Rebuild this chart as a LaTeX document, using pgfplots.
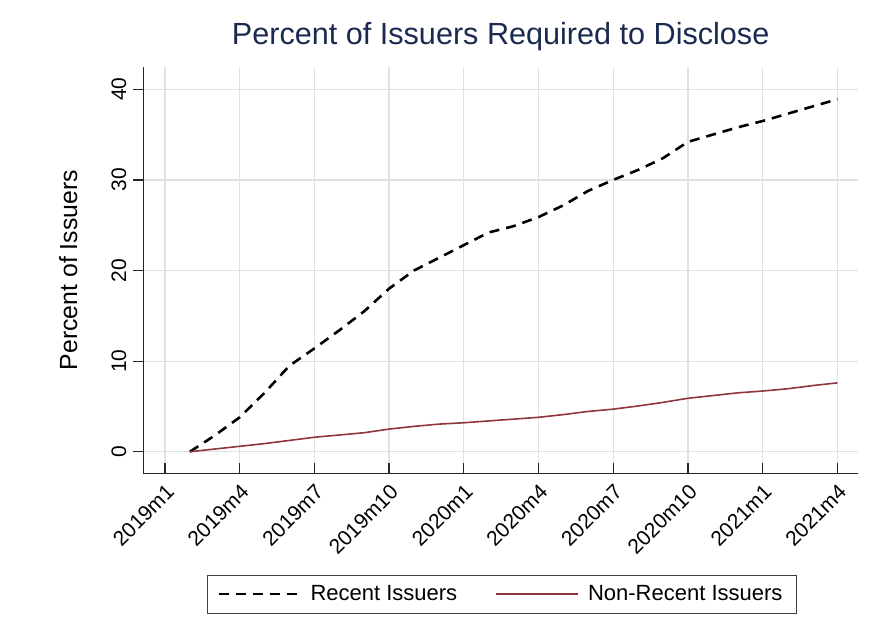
\documentclass[border=0pt]{standalone}
\usepackage{pgfplots}
\pgfplotsset{compat=1.18}
\usepackage{fontspec}
\setmainfont{Liberation Sans}
\definecolor{stmaroon}{RGB}{144,53,59}
\definecolor{sttitle}{RGB}{26,42,80}
\definecolor{stgrid}{RGB}{225,225,225}

% months since 2019m1
\pgfplotstableread{
m recent nonrecent
1  0.0  0.0
2  1.8  0.3
3  3.8  0.6
4  6.5  0.9
5  9.5  1.25
6  11.4 1.6
7  13.4 1.85
8  15.5 2.1
9  18.0 2.5
10 20.0 2.8
11 21.4 3.05
12 22.8 3.2
13 24.2 3.4
14 24.9 3.6
15 25.9 3.8
16 27.2 4.1
17 28.8 4.45
18 30.0 4.7
19 31.1 5.05
20 32.4 5.45
21 34.2 5.9
22 35.0 6.2
23 35.8 6.5
24 36.5 6.7
25 37.3 6.95
26 38.1 7.3
27 38.9 7.6
}\datatable

\begin{document}
\begin{tikzpicture}
\path[use as bounding box] (-71.65pt,-82.35pt) rectangle (363.35pt,236.65pt);
\begin{axis}[
    at={(0,0)}, anchor=south west,
    width=357.35pt, height=203.15pt, scale only axis,
    xmin=-0.87, xmax=27.83,
    ymin=-2.38, ymax=42.46,
    axis x line*=bottom, axis y line*=left,
    axis line style={-, black!85, line width=0.6pt},
    xtick={0,3,...,27},
    xticklabels={2019m1,2019m4,2019m7,2019m10,2020m1,2020m4,2020m7,2020m10,2021m1,2021m4},
    ytick={0,10,20,30,40},
    xtick align=inside, ytick align=outside,
    major tick length=5pt,
    tick style={black!85, line width=0.6pt},
    grid=major,
    grid style={stgrid, line width=0.6pt},
    /pgf/number format/assume math mode=true,
    ticklabel style={font=\fontsize{10.5}{12}\selectfont},
    xticklabel style={rotate=45, anchor=north east},
    yticklabel style={rotate=90, anchor=south},
    title={Percent of Issuers Required to Disclose},
    title style={at={(axis description cs:0.5,1)}, anchor=base, yshift=5.5pt,
        font=\fontsize{15.3}{18}\selectfont, text=sttitle},
    ylabel={Percent of Issuers},
    ylabel style={at={(axis description cs:-0.105,0.5)}, anchor=center,
        font=\fontsize{12.4}{14}\selectfont},
    legend columns=2,
    legend style={at={(axis description cs:0.5017,-0.297)}, anchor=center,
        draw=black!75,
        font=\fontsize{11}{13}\selectfont,
        /tikz/every even column/.append style={column sep=17pt},
        inner xsep=5pt, inner ysep=3pt},
    legend image code/.code={\draw[#1] (0pt,0pt) -- (41pt,0pt);
        \path[draw=none] (44pt,0pt);},
]
\addplot[black, line width=1.3pt, dash pattern=on 5pt off 3.5pt] table[x=m, y=recent] {\datatable};
\addlegendentry{Recent Issuers}
\addplot[stmaroon, line width=0.8pt] table[x=m, y=nonrecent] {\datatable};
\addlegendentry{Non-Recent Issuers\hspace{3pt}}
\end{axis}
\end{tikzpicture}
\end{document}
